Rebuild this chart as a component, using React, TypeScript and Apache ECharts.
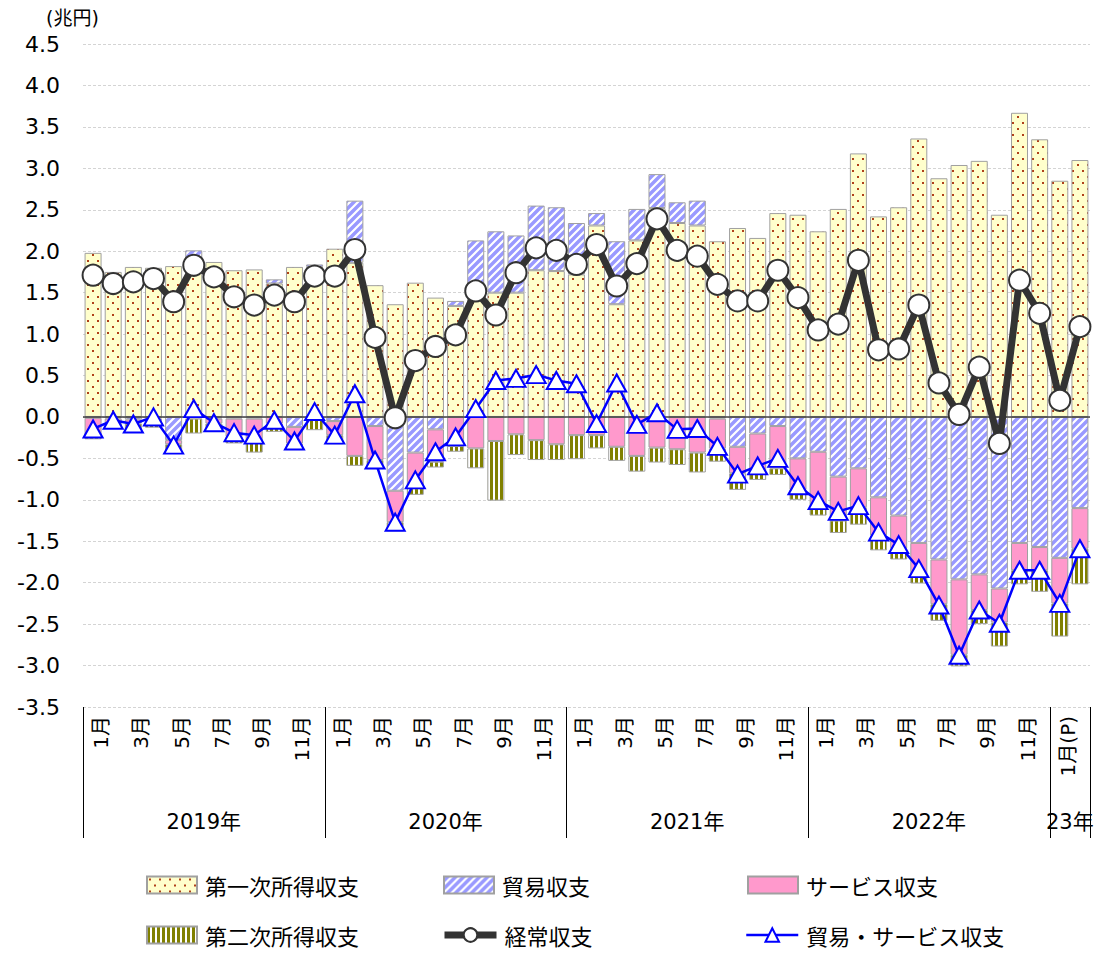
import React, { useEffect, useRef } from 'react';
import * as echarts from 'echarts';

const months = [
  '1月','2月','3月','4月','5月','6月','7月','8月','9月','10月','11月','12月',
  '1月','2月','3月','4月','5月','6月','7月','8月','9月','10月','11月','12月',
  '1月','2月','3月','4月','5月','6月','7月','8月','9月','10月','11月','12月',
  '1月','2月','3月','4月','5月','6月','7月','8月','9月','10月','11月','12月',
  '1月(P)','2月',
];
const years = ['2019年', '2020年', '2021年', '2022年', '23年'];
const yearStarts = [0, 12, 24, 36, 48];

const primaryIncome = [
  1.98, 1.75, 1.81, 1.80, 1.82, 1.91, 1.87, 1.77, 1.78, 1.61, 1.81, 1.81,
  2.03, 1.86, 1.59, 1.36, 1.62, 1.44, 1.34, 1.50, 1.50, 1.50, 1.77, 1.76,
  1.72, 2.31, 1.36, 2.13, 2.52, 2.34, 2.31, 2.12, 2.28, 2.16, 2.46, 2.44,
  2.24, 2.51, 3.18, 2.42, 2.53, 3.36, 2.88, 3.04, 3.09, 2.44, 3.67, 3.35,
  2.85, 3.10,
];
const tradeBalance = [
  -0.01, -0.02, -0.03, -0.02, -0.28, 0.10, -0.02, -0.02, -0.02, 0.05, -0.12, 0.03,
  -0.05, 0.75, -0.11, -0.89, -0.43, -0.15, 0.06, 0.63, 0.74, 0.69, 0.78, 0.77,
  0.62, 0.15, 0.76, 0.38, 0.41, 0.25, 0.30, -0.02, -0.36, -0.20, -0.11, -0.50,
  -0.42, -0.72, -0.62, -0.97, -1.19, -1.52, -1.72, -1.96, -1.90, -2.07, -1.52, -1.57,
  -1.70, -1.10,
];
const servicesBalance = [
  -0.22, -0.05, -0.05, -0.03, -0.05, -0.02, -0.06, -0.22, -0.28, -0.08, -0.20, -0.02,
  -0.17, -0.47, -0.41, -0.38, -0.43, -0.39, -0.35, -0.38, -0.29, -0.21, -0.28, -0.33,
  -0.22, -0.22, -0.36, -0.47, -0.37, -0.39, -0.43, -0.36, -0.32, -0.48, -0.51, -0.38,
  -0.67, -0.53, -0.47, -0.46, -0.40, -0.41, -0.54, -0.91, -0.43, -0.41, -0.33, -0.28,
  -0.55, -0.49,
];
const secondaryIncome = [
  -0.04, -0.07, -0.09, -0.08, -0.10, -0.18, -0.10, -0.08, -0.13, -0.10, -0.08, -0.14,
  -0.11, -0.12, -0.11, -0.11, -0.08, -0.07, -0.07, -0.24, -0.72, -0.25, -0.24, -0.19,
  -0.29, -0.16, -0.17, -0.19, -0.18, -0.19, -0.24, -0.16, -0.20, -0.08, -0.08, -0.12,
  -0.10, -0.15, -0.21, -0.18, -0.13, -0.08, -0.20, -0.14, -0.17, -0.29, -0.17, -0.26,
  -0.40, -0.43,
];
const currentAccount = [
  1.71, 1.61, 1.63, 1.67, 1.39, 1.83, 1.69, 1.45, 1.35, 1.47, 1.39, 1.70,
  1.70, 2.02, 0.96, -0.01, 0.68, 0.85, 0.99, 1.52, 1.23, 1.74, 2.04, 2.01,
  1.84, 2.08, 1.58, 1.85, 2.39, 2.01, 1.94, 1.60, 1.40, 1.40, 1.77, 1.44,
  1.05, 1.12, 1.89, 0.81, 0.82, 1.35, 0.41, 0.03, 0.60, -0.32, 1.65, 1.25,
  0.20, 1.09,
];
const tradeServices = [
  -0.145, -0.04, -0.085, 0.0, -0.34, 0.10, -0.07, -0.19, -0.22, -0.04, -0.29, 0.065,
  -0.22, 0.28, -0.52, -1.27, -0.76, -0.42, -0.24, 0.10, 0.44, 0.465, 0.51, 0.44,
  0.40, -0.08, 0.41, -0.09, 0.05, -0.15, -0.14, -0.355, -0.69, -0.59, -0.50, -0.83,
  -1.01, -1.14, -1.07, -1.39, -1.54, -1.83, -2.27, -2.875, -2.33, -2.49, -1.85, -1.85,
  -2.25, -1.59,
];

const FONT = "'DejaVu Sans', 'Noto Sans CJK JP', sans-serif";
const JFONT = "'Noto Sans CJK JP', sans-serif";

function makeCanvas(w: number, h: number, draw: (ctx: CanvasRenderingContext2D) => void) {
  const c = document.createElement('canvas');
  c.width = w;
  c.height = h;
  const ctx = c.getContext('2d') as CanvasRenderingContext2D;
  draw(ctx);
  return c;
}

export default function App() {
  const ref = useRef<HTMLDivElement>(null);

  useEffect(() => {
    document.body.style.margin = '0';
    document.body.style.overflow = 'hidden';
    if (!ref.current) return;
    const chart = echarts.init(ref.current, undefined, { renderer: 'svg' });

    const dots = makeCanvas(10, 12, (ctx) => {
      ctx.fillStyle = '#FFFFCC';
      ctx.fillRect(0, 0, 10, 12);
      ctx.fillStyle = '#B0401A';
      ctx.fillRect(2, 2, 2, 2);
      ctx.fillRect(7, 8, 2, 2);
    });
    const stripes = makeCanvas(8, 8, (ctx) => {
      ctx.fillStyle = '#9999FF';
      ctx.fillRect(0, 0, 8, 8);
      ctx.strokeStyle = '#FFFFFF';
      ctx.lineWidth = 2.2;
      ctx.beginPath();
      ctx.moveTo(-2, 10); ctx.lineTo(10, -2);
      ctx.moveTo(-2, 2); ctx.lineTo(2, -2);
      ctx.moveTo(6, 10); ctx.lineTo(10, 6);
      ctx.stroke();
    });
    const vstripes = makeCanvas(5, 4, (ctx) => {
      ctx.fillStyle = '#FFFFFF';
      ctx.fillRect(0, 0, 5, 4);
      ctx.fillStyle = '#808000';
      ctx.fillRect(0, 0, 3, 4);
    });

    const barBase = {
      type: 'bar',
      stack: 'bop',
      barWidth: 17,
    };
    const border = { borderColor: '#A0A0A0', borderWidth: 1 };

    const legendBase: any = {
      orient: 'horizontal',
      padding: 0,
      itemWidth: 50,
      itemHeight: 17,
      selectedMode: false,
      textStyle: { fontSize: 22, color: '#000', fontFamily: JFONT, padding: [0, 0, 0, 3] },
    };

    const option: any = {
      animation: false,
      backgroundColor: '#ffffff',
      textStyle: { fontFamily: FONT },
      grid: { left: 83, right: 21, top: 44, bottom: 247, containLabel: false },
      xAxis: {
        type: 'category',
        data: months,
        boundaryGap: true,
        axisLine: { show: false },
        axisTick: { show: false },
        axisLabel: {
          interval: 1,
          rotate: 90,
          margin: 9,
          fontSize: 20,
          lineHeight: 16,
          verticalAlign: 'top',
          color: '#000',
          fontFamily: FONT,
        },
      },
      yAxis: {
        type: 'value',
        min: -3.5,
        max: 4.5,
        interval: 0.5,
        axisLine: { show: false },
        axisTick: { show: false },
        axisLabel: {
          formatter: (v: number) => v.toFixed(1),
          fontSize: 22,
          color: '#000',
          margin: 23,
          fontFamily: FONT,
        },
        splitLine: { lineStyle: { color: '#D4D4D4', type: [3, 2], width: 1 } },
      },
      legend: [
        { ...legendBase, data: ['第一次所得収支'], icon: 'rect', left: 146, top: 874 },
        { ...legendBase, data: ['貿易収支'], icon: 'rect', left: 443, top: 874 },
        { ...legendBase, data: ['サービス収支'], icon: 'rect', left: 747, top: 874 },
        { ...legendBase, data: ['第二次所得収支'], icon: 'rect', left: 146, top: 924 },
        {
          ...legendBase, data: ['経常収支'], left: 441, top: 924, itemWidth: 52,
          lineStyle: { width: 7, color: '#333333' },
          itemStyle: { color: '#FFFFFF', borderColor: '#333333', borderWidth: 2 },
        },
        {
          ...legendBase, data: ['貿易・サービス収支'], left: 745, top: 924, itemWidth: 52,
          lineStyle: { width: 2.5, color: '#0000FF' },
          itemStyle: { color: '#FFFFFF', borderColor: '#0000FF', borderWidth: 2 },
        },
      ],
      series: [
        {
          ...barBase,
          name: '第一次所得収支',
          data: primaryIncome,
          itemStyle: { color: { image: dots, repeat: 'repeat' }, ...border },
        },
        {
          ...barBase,
          name: '貿易収支',
          data: tradeBalance,
          itemStyle: { color: { image: stripes, repeat: 'repeat' }, ...border },
        },
        {
          ...barBase,
          name: 'サービス収支',
          data: servicesBalance,
          itemStyle: { color: '#FF99CC', ...border },
        },
        {
          ...barBase,
          name: '第二次所得収支',
          data: secondaryIncome,
          itemStyle: { color: { image: vstripes, repeat: 'repeat' }, ...border },
          markLine: {
            silent: true,
            symbol: ['none', 'none'],
            label: { show: false },
            lineStyle: { color: '#404040', type: 'solid', width: 1.5 },
            data: [{ yAxis: 0 }],
          },
        },
        {
          name: '経常収支',
          type: 'line',
          data: currentAccount,
          z: 10,
          symbol: 'circle',
          symbolSize: 21,
          showAllSymbol: true,
          lineStyle: { color: '#333333', width: 7 },
          itemStyle: { color: '#FFFFFF', borderColor: '#333333', borderWidth: 2 },
        },
        {
          name: '貿易・サービス収支',
          type: 'line',
          data: tradeServices,
          z: 11,
          symbol: 'triangle',
          symbolSize: [19, 17],
          showAllSymbol: true,
          lineStyle: { color: '#0000FF', width: 2.5 },
          itemStyle: { color: '#FFFFFF', borderColor: '#0000FF', borderWidth: 2 },
        },
      ],
    };

    chart.setOption(option);

    const px = (i: number) => chart.convertToPixel({ xAxisIndex: 0 }, i) as number;
    const band = px(1) - px(0);
    const boundary = (i: number) => (i < months.length ? px(i) - band / 2 : px(months.length - 1) + band / 2);
    const yBottom = chart.convertToPixel({ yAxisIndex: 0 }, -3.5) as number;
    const lineBottom = 838;

    const edges = [...yearStarts, months.length];
    const graphics: any[] = [
      {
        type: 'text',
        left: 46,
        top: 8,
        style: { text: '(兆円)', fontSize: 19, fill: '#000', fontFamily: FONT },
      },
    ];
    edges.forEach((e) => {
      const x = Math.round(boundary(e)) + 0.5;
      graphics.push({
        type: 'line',
        shape: { x1: x, y1: yBottom, x2: x, y2: lineBottom },
        style: { stroke: '#000', lineWidth: 1 },
      });
    });
    years.forEach((y, k) => {
      const cx = (boundary(edges[k]) + boundary(edges[k + 1])) / 2;
      graphics.push({
        type: 'text',
        x: cx,
        y: 822,
        style: {
          text: y,
          fontSize: 21,
          fill: '#000',
          fontFamily: FONT,
          align: 'center',
          verticalAlign: 'middle',
        },
      });
    });
    chart.setOption({ graphic: graphics });

    return () => {
      chart.dispose();
    };
  }, []);

  return <div ref={ref} style={{ width: 1111, height: 954 }} />;
}
